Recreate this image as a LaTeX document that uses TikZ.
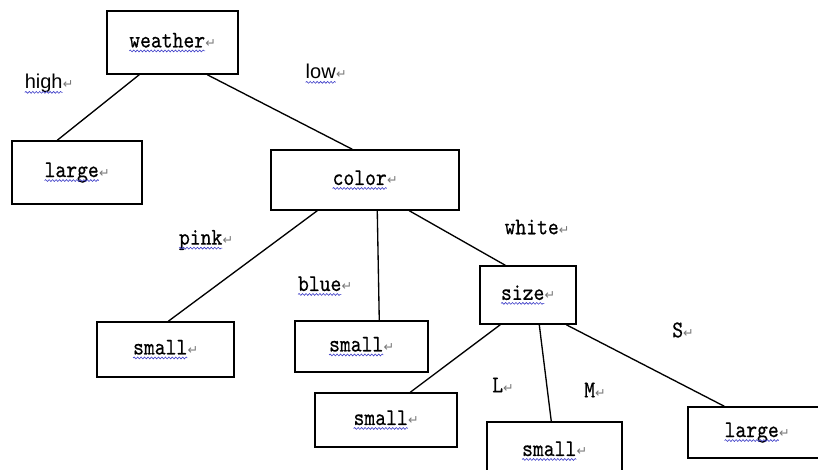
\documentclass[tikz,border=0pt]{standalone}
\usepackage{fontspec}
\usepackage{xcolor}
\usetikzlibrary{calc,decorations.pathmorphing}
\newfontfamily\monof[FakeStretch=0.86, FakeBold=0.5, Extension=.otf]{lmmono10-regular}
\newfontfamily\sansf{Liberation Sans}
\newfontfamily\symf{DejaVu Sans}
\definecolor{wavecol}{RGB}{60,60,200}
\definecolor{retcol}{RGB}{120,120,120}
\newcommand\bwave[1]{\tikz[baseline=(wv.base)]{\node[inner sep=0pt,outer sep=0pt,minimum width=0pt,minimum height=0pt,draw=none] (wv) {#1};
  \draw[wavecol, line width=0.45pt, decorate, decoration={snake, amplitude=0.7pt, segment length=2.6pt}] ([yshift=-2.6pt]wv.base west) -- ([yshift=-2.6pt]wv.base east);}}
\newcommand\ret{{\symf\fontsize{9.5}{10}\selectfont\textcolor{retcol}{↵}}}
\begin{document}
\begin{tikzpicture}[x=0.75pt,y=-0.75pt,
  box/.style 2 args={draw, line width=1.1pt, minimum width=#1*0.75pt, minimum height=#2*0.75pt, inner sep=0pt, font=\monof\fontsize{18}{20}\selectfont},
  edge/.style={line width=1pt},
  lab/.style={inner sep=0pt, font=\monof\fontsize{18}{20}\selectfont},
  slab/.style={inner sep=0pt, font=\sansf\fontsize{15}{17}\selectfont}]
\useasboundingbox (0,0) rectangle (818,470);
\clip (0,0) rectangle (818,470);
\fill[white] (0,0) rectangle (818,470);
% boxes
\node[box={131}{63}] (weather) at (172.5,42.5) {\bwave{weather}\ret};
\node[box={130}{63}] (largeA) at (77,172.5) {\bwave{large}\ret};
\node[box={188}{60}] (color) at (365,180) {\bwave{color}\ret};
\node[box={96}{58}] (size) at (528,295) {\bwave{size}\ret};
\node[box={137}{55}] (smallA) at (165.5,349.5) {\bwave{small}\ret};
\node[box={133}{51}] (smallB) at (361.5,346.5) {\bwave{small}\ret};
\node[box={142}{54}] (smallC) at (386,420) {\bwave{small}\ret};
\node[box={135}{58}] (smallD) at (554.5,451) {\bwave{small}\ret};
\node[box={138}{51}] (largeB) at (757,432.5) {\bwave{large}\ret};
% edges
\draw[edge] ($(weather.south west)+(33,0)$) -- ($(largeA.north west)+(46,0)$);
\draw[edge] ($(weather.south west)+(101,0)$) -- ($(color.north west)+(82,0)$);
\draw[edge] ($(color.south west)+(47,0)$) -- ($(smallA.north west)+(72,0)$);
\draw[edge] ($(color.south west)+(107,0)$) -- ($(smallB.north west)+(85,0)$);
\draw[edge] ($(color.south west)+(139,0)$) -- ($(size.north west)+(26,0)$);
\draw[edge] ($(size.south west)+(21,0)$) -- ($(smallC.north west)+(96,0)$);
\draw[edge] ($(size.south west)+(60,0)$) -- ($(smallD.north west)+(65,0)$);
\draw[edge] ($(size.south west)+(87,0)$) -- ($(largeB.north west)+(37,0)$);
% edge labels
\node[slab] (high) at (49,84) {\bwave{high}\ret};
\node[slab] (low) at (326,74) {\bwave{low}\ret};
\node[lab] (pink) at (206,240) {\bwave{pink}\ret};
\node[lab] (blue) at (325,286) {\bwave{blue}\ret};
\node[lab] (white) at (537,227) {white\ret};
\node[lab] (L) at (503,385) {L\ret};
\node[lab] (M) at (595,390) {M\ret};
\node[lab] (S) at (683,330) {S\ret};
\end{tikzpicture}
\end{document}
